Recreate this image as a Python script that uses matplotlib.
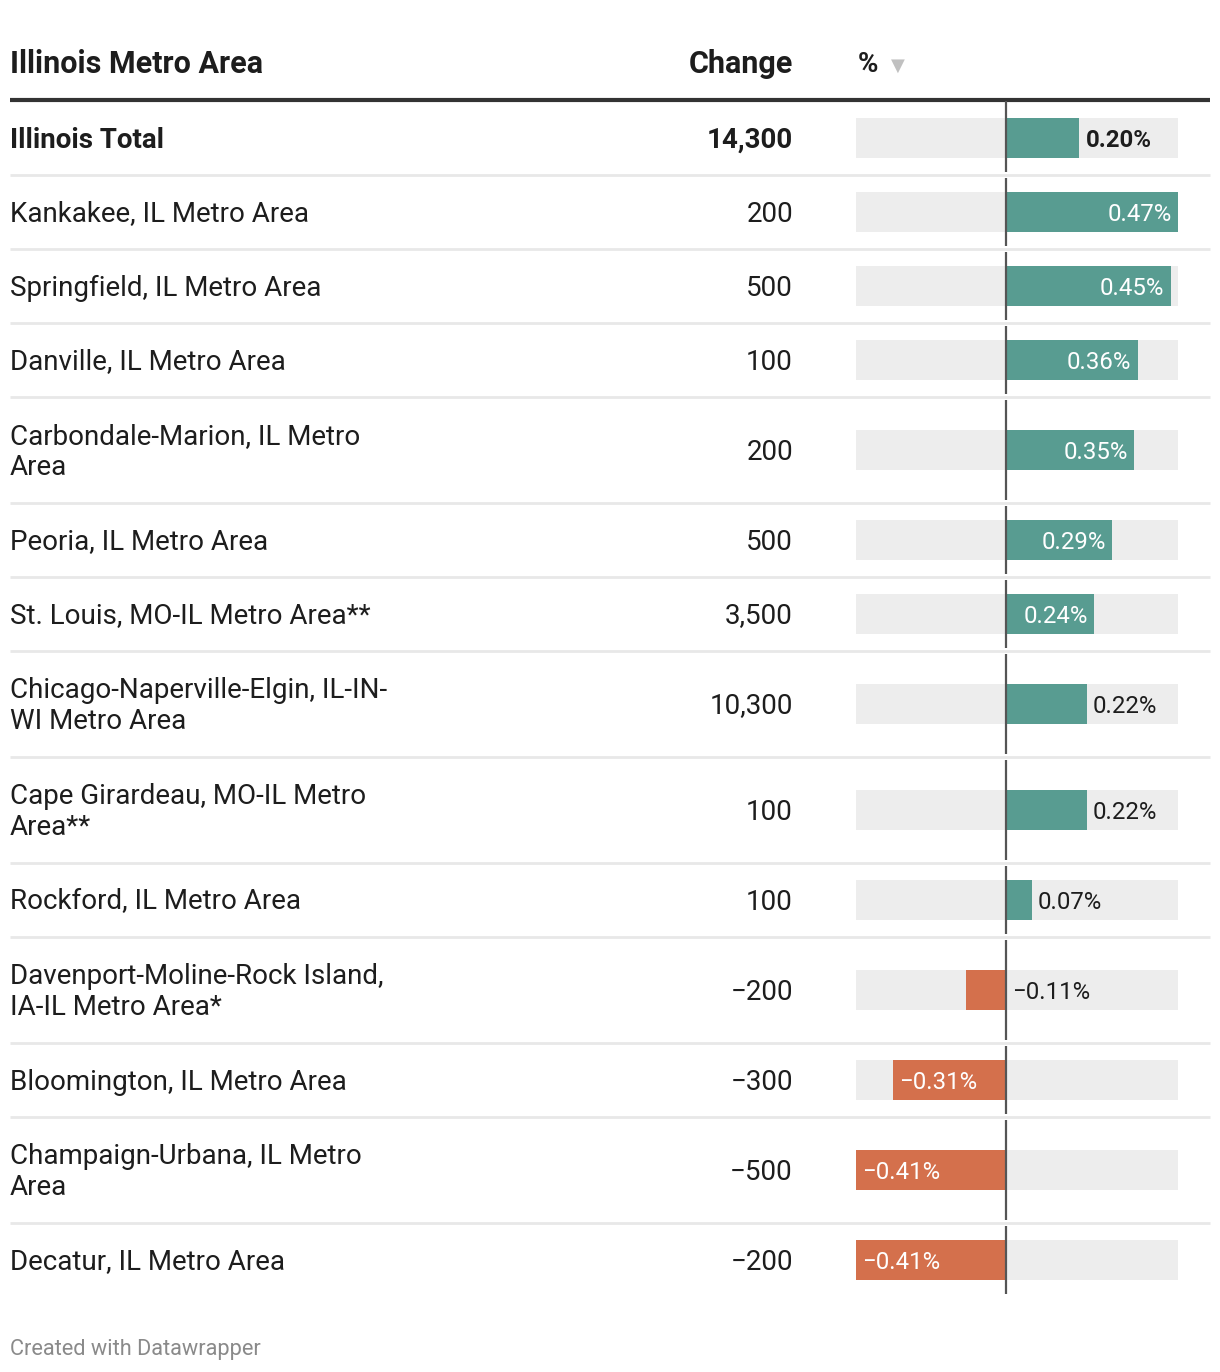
import numpy as np
import matplotlib.pyplot as plt

plt.rcParams['font.family'] = ['Roboto', 'DejaVu Sans']

names = ["Illinois Total", "Kankakee, IL Metro Area", "Springfield, IL Metro Area",
         "Danville, IL Metro Area", "Carbondale-Marion, IL Metro\nArea",
         "Peoria, IL Metro Area", "St. Louis, MO-IL Metro Area**",
         "Chicago-Naperville-Elgin, IL-IN-\nWI Metro Area",
         "Cape Girardeau, MO-IL Metro\nArea**", "Rockford, IL Metro Area",
         "Davenport-Moline-Rock Island,\nIA-IL Metro Area*",
         "Bloomington, IL Metro Area", "Champaign-Urbana, IL Metro\nArea",
         "Decatur, IL Metro Area"]
change = [14300, 200, 500, 100, 200, 500, 3500, 10300, 100, 100, -200, -300, -500, -200]
pct = [0.20, 0.47, 0.45, 0.36, 0.35, 0.29, 0.24, 0.22, 0.22, 0.07, -0.11, -0.31, -0.41, -0.41]

W, H = 1220, 1372
fig = plt.figure(figsize=(W / 100, H / 100), dpi=100)
ax = fig.add_axes([0, 0, 1, 1])
ax.set_xlim(0, W)
ax.set_ylim(H, 0)
ax.axis('off')

TXT = '#1d1d1d'
FS = 20

# header
ax.text(10, 64, "Illinois Metro Area", fontsize=22, fontweight='bold', color=TXT,
        ha='left', va='center')
ax.text(793, 64, "Change", fontsize=22, fontweight='bold', color=TXT, ha='right', va='center')
ax.text(858, 64, "%", fontsize=20, fontweight='bold', color=TXT, ha='left', va='center')
ax.text(891, 66, "\u25bc", fontsize=13, color='#c0c0c0', ha='left', va='center',
        family=['DejaVu Sans'])
ax.plot([10, 1210], [100, 100], color='#333333', lw=3, solid_capstyle='butt')

# row layout
heights = [106 if '\n' in n else 74 for n in names]
tops = 101 + np.concatenate([[0], np.cumsum(heights)[:-1]])
bottoms = tops + np.array(heights)
centers = (tops + bottoms) / 2

for i, (n, c) in enumerate(zip(names, change)):
    bold = i == 0
    ax.text(10, centers[i] + 2, n, fontsize=FS, color=TXT, ha='left', va='center',
            fontweight='bold' if bold else 'normal', linespacing=1.15)
    lbl = f"{abs(c):,}"
    if c < 0:
        lbl = "\u2212" + lbl
    ax.text(793, centers[i] + 2, lbl, fontsize=FS, color=TXT, ha='right', va='center',
            fontweight='bold' if bold else 'normal')
    if i < len(names) - 1:
        ax.plot([10, 1210], [bottoms[i], bottoms[i]], color='#e8e8e8', lw=2,
                solid_capstyle='butt')

ax.text(10, 1349, "Created with Datawrapper", fontsize=15.7, color='#8a8a8a',
        ha='left', va='center')

# bar column
lo, hi = min(pct), max(pct)
bx = fig.add_axes([856 / W, 0, (1178 - 856) / W, 1])
bx.set_xlim(lo, hi)
bx.set_ylim(H, 0)
bx.axis('off')

bx.barh(centers, hi - lo, left=lo, height=40, color='#ededed')
colors = ['#589c91' if p > 0 else '#d4704c' for p in pct]
bx.barh(centers, pct, height=40, color=colors)
seg_top = tops + 3
seg_top[0] = 101
bx.vlines(np.zeros(len(pct)), seg_top, bottoms - 3, color='#555555', lw=1.6)

pad = 4.5
for i, p in enumerate(pct):
    s = f"{abs(p):.2f}%"
    if p < 0:
        s = "\u2212" + s
    bold = i == 0
    inside = abs(p) > 0.23 and not bold
    if p > 0:
        if inside:
            xy, off, ha, col = (p, centers[i]), -pad, 'right', 'white'
        else:
            xy, off, ha, col = (p, centers[i]), pad, 'left', TXT
    else:
        if inside:
            xy, off, ha, col = (p, centers[i]), pad, 'left', 'white'
        else:
            xy, off, ha, col = (0, centers[i]), pad, 'left', TXT
    bx.annotate(s, xy=xy, xytext=(off, -1.5), textcoords='offset points', ha=ha,
                va='center', fontsize=17.3, color=col,
                fontweight='bold' if bold else 'normal')

fig.savefig('out.png', dpi=100, facecolor='white')
